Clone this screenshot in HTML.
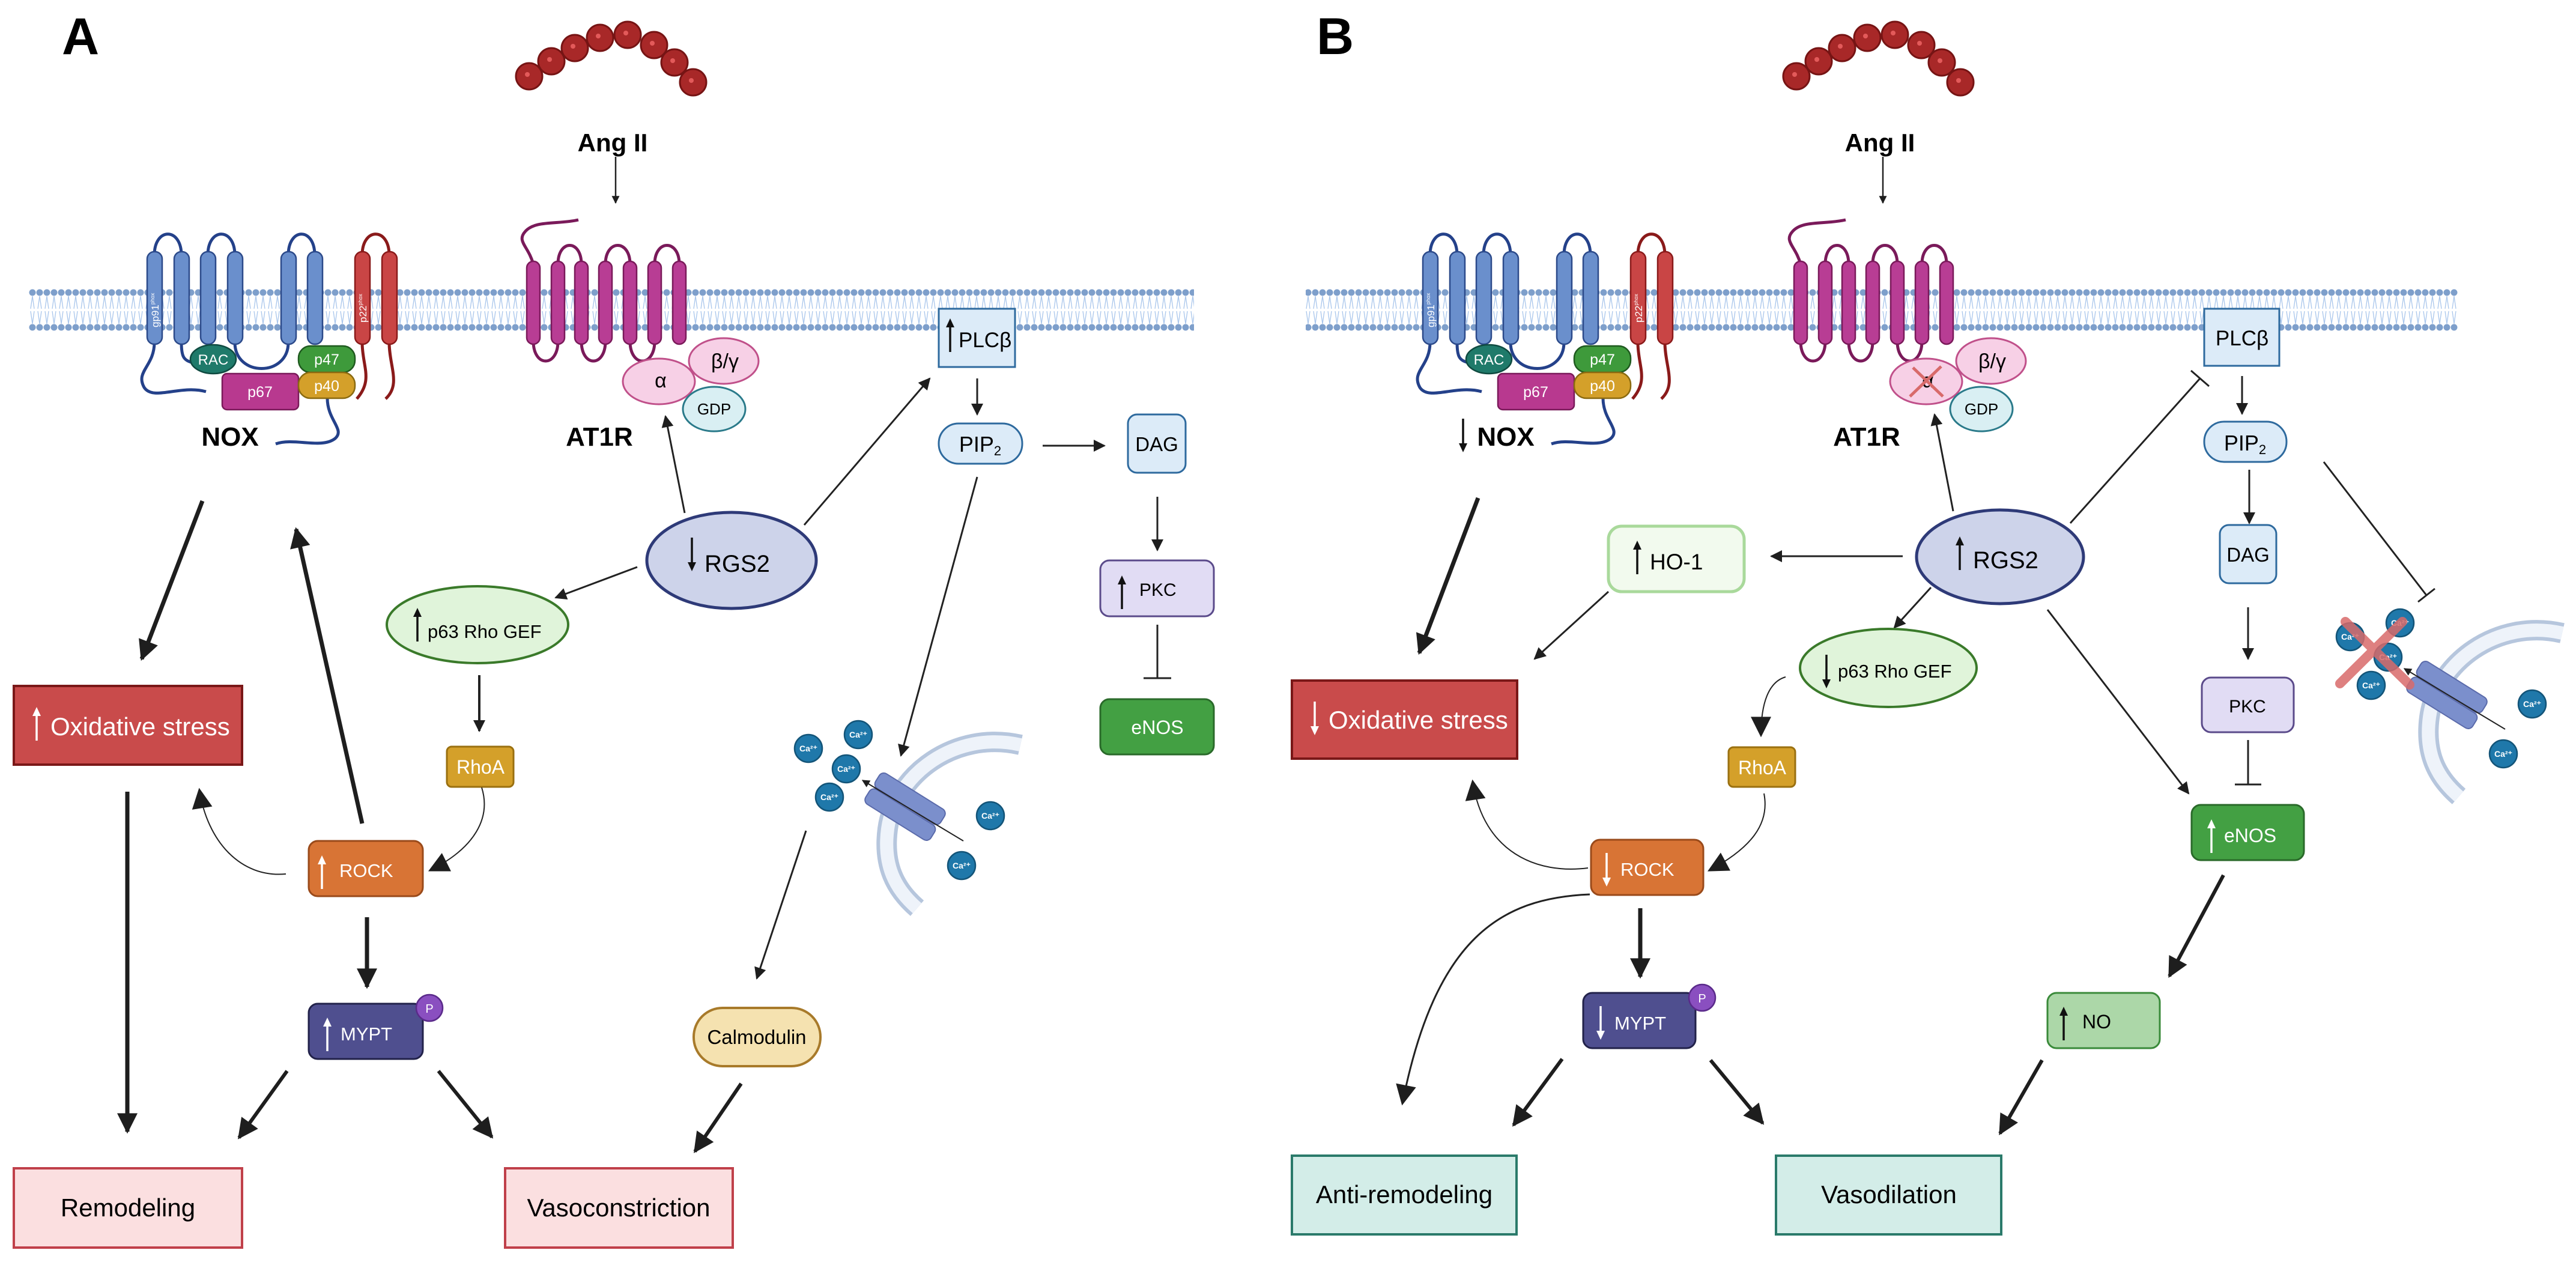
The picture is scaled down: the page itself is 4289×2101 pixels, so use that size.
<!DOCTYPE html>
<html><head><meta charset="utf-8"><style>
html,body{margin:0;padding:0;background:#fff}
svg{display:block}
text{font-family:"Liberation Sans",Arial,sans-serif}
</style></head><body>
<svg xmlns="http://www.w3.org/2000/svg" width="4289" height="2101" viewBox="0 0 4289 2101">
<defs>
<marker id="ah" viewBox="0 0 10 10" refX="9" refY="5" markerWidth="24" markerHeight="20" markerUnits="userSpaceOnUse" orient="auto"><path d="M0,0L10,5L0,10z" fill="#1e1e1e"/></marker>
<marker id="as" viewBox="0 0 10 10" refX="9" refY="5" markerWidth="16" markerHeight="13" markerUnits="userSpaceOnUse" orient="auto"><path d="M0,0L10,5L0,10z" fill="#1e1e1e"/></marker>
<marker id="ab" viewBox="0 0 10 10" refX="9" refY="5" markerWidth="40" markerHeight="34" markerUnits="userSpaceOnUse" orient="auto"><path d="M0,0L10,5L0,10z" fill="#1e1e1e"/></marker>
<pattern id="mem" x="0" y="480" width="12" height="72" patternUnits="userSpaceOnUse">
<path d="M6,13 L3,34 M6,13 L9,34 M3,38 L6,59 M9,38 L6,59" stroke="#a9c6ec" stroke-width="1.3" fill="none"/>
<circle cx="6" cy="7" r="5.5" fill="#7e9fcb"/><circle cx="6" cy="65" r="5.5" fill="#7e9fcb"/>
</pattern>
<g id="up"><path d="M0,56 V12" stroke="currentColor" stroke-width="3.5"/><path d="M-7,15 L0,0 L7,15z" fill="currentColor"/></g>
<g id="dn"><path d="M0,0 V44" stroke="currentColor" stroke-width="3.5"/><path d="M-7,41 L0,56 L7,41z" fill="currentColor"/></g>
<g id="bead"><circle r="22" fill="#a82828" stroke="#761414" stroke-width="3"/><circle cx="-3" cy="-3" r="4" fill="#e35a5a"/></g>
<g id="ca"><circle r="23" fill="#1f78aa" stroke="#135478" stroke-width="2.5"/><text y="5" text-anchor="middle" font-size="14" font-weight="bold" fill="#fff">Ca²⁺</text></g>

<!-- shared NOX -->
<g id="nox">
<path d="M257,425 C257,378 302,378 302,425 M346,425 C346,378 391,378 391,425 M480,425 C480,378 524,378 524,425" stroke="#24418a" stroke-width="5" fill="none"/>
<path d="M257,570 C257,610 225,618 240,645 C255,668 300,640 343,652 M302,570 C302,595 306,600 322,604 M391,570 C391,628 480,628 480,570 M545,663 C545,700 575,715 558,730 C535,748 490,728 459,739" stroke="#24418a" stroke-width="5" fill="none"/>
<g fill="#6a8fcc" stroke="#2c4a8a" stroke-width="2.5">
<rect x="245" y="419" width="25" height="154" rx="12"/><rect x="290" y="419" width="25" height="154" rx="12"/>
<rect x="334" y="419" width="25" height="154" rx="12"/><rect x="379" y="419" width="25" height="154" rx="12"/>
<rect x="468" y="419" width="25" height="154" rx="12"/><rect x="512" y="419" width="25" height="154" rx="12"/>
</g>
<path d="M603,425 C603,378 648,378 648,425 M603,570 C603,610 622,632 594,664 M648,570 C648,610 668,640 642,664" stroke="#8a1a1a" stroke-width="5" fill="none"/>
<g fill="#c94545" stroke="#8a1a1a" stroke-width="2.5"><rect x="591" y="419" width="25" height="154" rx="12"/><rect x="636" y="419" width="25" height="154" rx="12"/></g>
<text transform="translate(264,545) rotate(-90)" font-size="17" fill="#fff">gp91<tspan font-size="9" dy="-7">phox</tspan></text>
<text transform="translate(610,537) rotate(-90)" font-size="17" fill="#fff">p22<tspan font-size="9" dy="-7">phox</tspan></text>
<ellipse cx="355" cy="598" rx="38" ry="24" fill="#1f7a6a" stroke="#0f4a40" stroke-width="2.5"/>
<text x="355" y="607" text-anchor="middle" font-size="24" fill="#fff">RAC</text>
<rect x="370" y="622" width="127" height="60" rx="8" fill="#b8398f" stroke="#7a1a5a" stroke-width="2.5"/>
<text x="433" y="661" text-anchor="middle" font-size="25" fill="#fff">p67</text>
<rect x="497" y="576" width="94" height="44" rx="20" fill="#3e9a3b" stroke="#1f5a1f" stroke-width="2.5"/>
<text x="544" y="607" text-anchor="middle" font-size="25" fill="#fff">p47</text>
<rect x="497" y="620" width="94" height="43" rx="20" fill="#d4a02a" stroke="#8a6a10" stroke-width="2.5"/>
<text x="544" y="651" text-anchor="middle" font-size="25" fill="#fff">p40</text>
<text x="383" y="742" text-anchor="middle" font-size="44" font-weight="bold">NOX</text>
</g>

<!-- shared receptor -->
<g id="rec">
<use href="#bead" x="881" y="127"/><use href="#bead" x="918" y="102"/><use href="#bead" x="957" y="80"/><use href="#bead" x="999" y="63"/><use href="#bead" x="1045" y="58"/><use href="#bead" x="1089" y="75"/><use href="#bead" x="1123" y="104"/><use href="#bead" x="1154" y="137"/>
<text x="1020" y="252" text-anchor="middle" font-size="42" font-weight="bold">Ang II</text>
<path d="M1025,261 V338" stroke="#222" stroke-width="2.5" marker-end="url(#as)"/>
<path d="M888,440 C880,410 860,402 874,386 C890,366 930,374 963,366" stroke="#7a1a5a" stroke-width="5" fill="none"/>
<path d="M929,440 C929,398 968,398 968,440 M1008,440 C1008,398 1049,398 1049,440 M1090,440 C1090,398 1131,398 1131,440 M888,568 C888,612 929,612 929,568 M968,568 C968,612 1008,612 1008,568 M1049,568 C1049,612 1090,612 1090,568" stroke="#7a1a5a" stroke-width="5" fill="none"/>
<g fill="#b83d94" stroke="#7a1a5a" stroke-width="2.5">
<rect x="877" y="435" width="22" height="138" rx="11"/><rect x="918" y="435" width="22" height="138" rx="11"/><rect x="957" y="435" width="22" height="138" rx="11"/><rect x="997" y="435" width="22" height="138" rx="11"/><rect x="1038" y="435" width="22" height="138" rx="11"/><rect x="1079" y="435" width="22" height="138" rx="11"/><rect x="1120" y="435" width="22" height="138" rx="11"/>
</g>
<ellipse cx="1205" cy="601" rx="58" ry="38" fill="#f7d0e6" stroke="#c0508a" stroke-width="3"/>
<text x="1207" y="613" text-anchor="middle" font-size="34">β/γ</text>
<ellipse cx="1097" cy="635" rx="60" ry="38" fill="#f7d0e6" stroke="#c0508a" stroke-width="3"/>
<ellipse cx="1189" cy="681" rx="52" ry="37" fill="#d9eff3" stroke="#2a7a8a" stroke-width="3"/>
<text x="1189" y="690" text-anchor="middle" font-size="26">GDP</text>
<text x="998" y="742" text-anchor="middle" font-size="44" font-weight="bold">AT1R</text>
</g>

<!-- shared Ca channel -->
<g id="cag">
<path d="M1699,1240 C1590,1215 1490,1290 1478,1380 C1470,1440 1490,1480 1527,1512" stroke="#b6c6dd" stroke-width="34" fill="none"/>
<path d="M1699,1240 C1590,1215 1490,1290 1478,1380 C1470,1440 1490,1480 1527,1512" stroke="#eef3fa" stroke-width="22" fill="none"/>
<g transform="translate(1507,1343) rotate(32)">
<rect x="-64" y="-30" width="128" height="29" rx="9" fill="#7b8fcc" stroke="#5a6aaa" stroke-width="2"/>
<rect x="-64" y="1" width="128" height="29" rx="9" fill="#7b8fcc" stroke="#5a6aaa" stroke-width="2"/>
</g>
<path d="M1604,1400 L1436,1299" stroke="#222" stroke-width="2" marker-end="url(#as)"/>
<use href="#ca" x="1346" y="1246"/><use href="#ca" x="1429" y="1223"/><use href="#ca" x="1409" y="1280"/><use href="#ca" x="1381" y="1327"/><use href="#ca" x="1649" y="1358"/><use href="#ca" x="1601" y="1441"/>
</g>
</defs>

<!-- ================= PANEL A ================= -->
<text x="103" y="90" font-size="86" font-weight="bold">A</text>
<rect x="48" y="480" width="1940" height="72" fill="url(#mem)"/>
<use href="#nox"/>
<use href="#rec"/>
<text x="1100" y="645" text-anchor="middle" font-size="34">α</text>

<rect x="1563" y="514" width="127" height="97" fill="#dcebf8" stroke="#2e6a9e" stroke-width="3"/>
<use href="#up" x="1582" y="530" transform="translate(0,0)" style="color:#111"/>
<text x="1596" y="578" font-size="35">PLCβ</text>
<path d="M1627,630 V690" stroke="#222" stroke-width="3" marker-end="url(#ah)"/>
<rect x="1563" y="705" width="139" height="67" rx="33" fill="#dcebf8" stroke="#2e6a9e" stroke-width="3"/>
<text x="1632" y="752" text-anchor="middle" font-size="36">PIP<tspan font-size="22" dy="6">2</tspan></text>
<path d="M1736,742 H1839" stroke="#222" stroke-width="3" marker-end="url(#ah)"/>
<rect x="1878" y="690" width="96" height="97" rx="15" fill="#dcebf8" stroke="#2e6a9e" stroke-width="3"/>
<text x="1926" y="751" text-anchor="middle" font-size="33">DAG</text>
<path d="M1927,827 V916" stroke="#222" stroke-width="3" marker-end="url(#ah)"/>
<rect x="1832" y="933" width="189" height="93" rx="15" fill="#e1dcf4" stroke="#5a4a8a" stroke-width="3"/>
<use href="#up" x="1868" y="958" style="color:#111"/>
<text x="1897" y="992" font-size="30">PKC</text>
<path d="M1927,1040 V1129 M1904,1129 H1950" stroke="#222" stroke-width="3"/>
<rect x="1832" y="1164" width="189" height="92" rx="15" fill="#43a043" stroke="#2a6a2a" stroke-width="3"/>
<text x="1927" y="1222" text-anchor="middle" font-size="32" fill="#fff">eNOS</text>

<ellipse cx="1218" cy="933" rx="141" ry="80" fill="#cdd3ea" stroke="#2e3a78" stroke-width="5"/>
<use href="#dn" x="1152" y="895" style="color:#111"/>
<text x="1173" y="952" font-size="40">RGS2</text>
<path d="M1140,854 L1108,693" stroke="#222" stroke-width="3" marker-end="url(#ah)"/>
<path d="M1339,874 L1548,630" stroke="#222" stroke-width="3" marker-end="url(#ah)"/>
<path d="M1627,794 L1500,1258" stroke="#222" stroke-width="3" marker-end="url(#ah)"/>
<path d="M1061,944 L925,995" stroke="#222" stroke-width="3" marker-end="url(#ah)"/>

<ellipse cx="795" cy="1040" rx="151" ry="64" fill="#e0f4da" stroke="#3a7a2a" stroke-width="4"/>
<use href="#up" x="695" y="1012" transform="" style="color:#111"/>
<text x="712" y="1062" font-size="31">p63 Rho GEF</text>
<path d="M798,1124 V1217" stroke="#222" stroke-width="4" marker-end="url(#ah)"/>
<rect x="744" y="1243" width="111" height="67" rx="8" fill="#d4a02a" stroke="#9a7010" stroke-width="3"/>
<text x="800" y="1288" text-anchor="middle" font-size="32" fill="#fff">RhoA</text>
<path d="M802,1311 C818,1362 790,1412 716,1449" stroke="#222" stroke-width="2" fill="none" marker-end="url(#ab)"/>
<rect x="514" y="1400" width="190" height="92" rx="15" fill="#d87435" stroke="#9a4a1a" stroke-width="3"/>
<use href="#up" x="536" y="1424" style="color:#fff"/>
<text x="565" y="1460" font-size="31" fill="#fff">ROCK</text>
<path d="M603,1371 L493,881" stroke="#1e1e1e" stroke-width="7" marker-end="url(#ab)"/>
<path d="M337,834 L236,1097" stroke="#1e1e1e" stroke-width="7" marker-end="url(#ab)"/>
<rect x="23" y="1142" width="380" height="131" fill="#c94b4b" stroke="#7a1818" stroke-width="4"/>
<use href="#up" x="61" y="1177" style="color:#fff"/>
<text x="84" y="1224" font-size="42" fill="#fff">Oxidative stress</text>
<path d="M476,1455 C400,1462 345,1400 332,1315" stroke="#222" stroke-width="2" fill="none" marker-end="url(#ab)"/>
<path d="M212,1318 V1884" stroke="#1e1e1e" stroke-width="7" marker-end="url(#ab)"/>
<path d="M611,1527 V1643" stroke="#1e1e1e" stroke-width="7" marker-end="url(#ab)"/>
<rect x="514" y="1671" width="190" height="92" rx="15" fill="#4f4f8f" stroke="#22224a" stroke-width="3"/>
<use href="#up" x="545" y="1694" style="color:#fff"/>
<text x="567" y="1732" font-size="31" fill="#fff">MYPT</text>
<circle cx="715" cy="1678" r="22" fill="#8a4fc0" stroke="#5a2a8a" stroke-width="2.5"/>
<text x="715" y="1686" text-anchor="middle" font-size="20" fill="#fff">P</text>
<path d="M478,1783 L398,1894" stroke="#1e1e1e" stroke-width="6" marker-end="url(#ab)"/>
<path d="M730,1783 L819,1893" stroke="#1e1e1e" stroke-width="6" marker-end="url(#ab)"/>
<rect x="23" y="1945" width="380" height="132" fill="#fbdfe0" stroke="#c0404a" stroke-width="4"/>
<text x="213" y="2025" text-anchor="middle" font-size="42">Remodeling</text>
<rect x="841" y="1945" width="379" height="132" fill="#fbdfe0" stroke="#c0404a" stroke-width="4"/>
<text x="1030" y="2025" text-anchor="middle" font-size="42">Vasoconstriction</text>
<use href="#cag"/>
<path d="M1342,1383 L1260,1629" stroke="#222" stroke-width="3" marker-end="url(#ah)"/>
<rect x="1155" y="1678" width="211" height="97" rx="48" fill="#f5e2b0" stroke="#a87a2a" stroke-width="4"/>
<text x="1260" y="1738" text-anchor="middle" font-size="33">Calmodulin</text>
<path d="M1234,1804 L1157,1917" stroke="#1e1e1e" stroke-width="6" marker-end="url(#ab)"/>

<!-- ================= PANEL B ================= -->
<text x="2192" y="90" font-size="86" font-weight="bold">B</text>
<rect x="2174" y="480" width="1918" height="72" fill="url(#mem)"/>
<use href="#nox" x="2124"/>
<use href="#rec" x="2110"/>
<text x="3210" y="645" text-anchor="middle" font-size="34">α</text>
<path d="M3185,612 L3235,660 M3180,660 L3232,610" stroke="#d86a6a" stroke-width="5"/>
<use href="#dn" x="2436" y="697" style="color:#111"/>

<rect x="3670" y="514" width="125" height="95" fill="#dcebf8" stroke="#2e6a9e" stroke-width="3"/>
<text x="3733" y="575" text-anchor="middle" font-size="35">PLCβ</text>
<path d="M3733,626 V689" stroke="#222" stroke-width="3" marker-end="url(#ah)"/>
<rect x="3670" y="702" width="137" height="67" rx="33" fill="#dcebf8" stroke="#2e6a9e" stroke-width="3"/>
<text x="3738" y="750" text-anchor="middle" font-size="36">PIP<tspan font-size="22" dy="6">2</tspan></text>
<path d="M3745,782 V871" stroke="#222" stroke-width="3" marker-end="url(#ah)"/>
<rect x="3696" y="874" width="94" height="97" rx="15" fill="#dcebf8" stroke="#2e6a9e" stroke-width="3"/>
<text x="3743" y="935" text-anchor="middle" font-size="33">DAG</text>
<path d="M3743,1011 V1097" stroke="#222" stroke-width="3" marker-end="url(#ah)"/>
<rect x="3666" y="1128" width="153" height="91" rx="15" fill="#e1dcf4" stroke="#5a4a8a" stroke-width="3"/>
<text x="3742" y="1186" text-anchor="middle" font-size="30">PKC</text>
<path d="M3743,1232 V1306 M3721,1306 H3765" stroke="#222" stroke-width="3"/>
<rect x="3649" y="1340" width="187" height="92" rx="15" fill="#43a043" stroke="#2a6a2a" stroke-width="3"/>
<use href="#up" x="3682" y="1364" style="color:#fff"/>
<text x="3703" y="1402" font-size="32" fill="#fff">eNOS</text>

<ellipse cx="3330" cy="927" rx="139" ry="78" fill="#cdd3ea" stroke="#2e3a78" stroke-width="5"/>
<use href="#up" x="3263" y="893" style="color:#111"/>
<text x="3285" y="946" font-size="40">RGS2</text>
<path d="M3252,851 L3221,690" stroke="#222" stroke-width="3" marker-end="url(#ah)"/>
<path d="M3447,871 L3663,630 M3648,617 L3678,643" stroke="#222" stroke-width="3"/>
<path d="M3869,769 L4040,991 M4026,1002 L4054,980" stroke="#222" stroke-width="3"/>
<path d="M3168,926 L2949,926" stroke="#222" stroke-width="3" marker-end="url(#ah)"/>
<path d="M3409,1015 L3644,1321" stroke="#222" stroke-width="3" marker-end="url(#ah)"/>
<path d="M3215,978 L3154,1045" stroke="#222" stroke-width="3" marker-end="url(#ah)"/>

<rect x="2678" y="876" width="226" height="109" rx="22" fill="#f2faee" stroke="#a9d99b" stroke-width="5"/>
<use href="#up" x="2726" y="900" style="color:#111"/>
<text x="2747" y="948" font-size="37">HO-1</text>
<path d="M2678,985 L2555,1097" stroke="#222" stroke-width="3" marker-end="url(#ah)"/>
<path d="M2461,829 L2363,1087" stroke="#1e1e1e" stroke-width="7" marker-end="url(#ab)"/>
<rect x="2151" y="1133" width="375" height="130" fill="#c94b4b" stroke="#7a1818" stroke-width="4"/>
<use href="#dn" x="2189" y="1168" style="color:#fff"/>
<text x="2212" y="1213" font-size="42" fill="#fff">Oxidative stress</text>

<ellipse cx="3144" cy="1112" rx="147" ry="65" fill="#e0f4da" stroke="#3a7a2a" stroke-width="4"/>
<use href="#dn" x="3041" y="1090" style="color:#111"/>
<text x="3060" y="1128" font-size="31">p63 Rho GEF</text>
<path d="M2973,1127 C2945,1135 2932,1170 2932,1224" stroke="#222" stroke-width="2" fill="none" marker-end="url(#ab)"/>
<rect x="2878" y="1244" width="111" height="66" rx="8" fill="#d4a02a" stroke="#9a7010" stroke-width="3"/>
<text x="2934" y="1289" text-anchor="middle" font-size="32" fill="#fff">RhoA</text>
<path d="M2937,1321 C2947,1372 2915,1412 2846,1449" stroke="#222" stroke-width="2" fill="none" marker-end="url(#ab)"/>
<rect x="2649" y="1398" width="187" height="92" rx="15" fill="#d87435" stroke="#9a4a1a" stroke-width="3"/>
<use href="#dn" x="2675" y="1420" style="color:#fff"/>
<text x="2698" y="1458" font-size="31" fill="#fff">ROCK</text>
<path d="M2644,1445 C2560,1456 2470,1420 2452,1301" stroke="#222" stroke-width="2" fill="none" marker-end="url(#ab)"/>
<path d="M2647,1489 C2500,1495 2390,1560 2335,1837" stroke="#222" stroke-width="3" fill="none" marker-end="url(#ab)"/>
<path d="M2731,1512 V1626" stroke="#1e1e1e" stroke-width="7" marker-end="url(#ab)"/>
<rect x="2636" y="1653" width="187" height="92" rx="15" fill="#4f4f8f" stroke="#22224a" stroke-width="3"/>
<use href="#dn" x="2665" y="1675" style="color:#fff"/>
<text x="2688" y="1714" font-size="31" fill="#fff">MYPT</text>
<circle cx="2834" cy="1661" r="22" fill="#8a4fc0" stroke="#5a2a8a" stroke-width="2.5"/>
<text x="2834" y="1669" text-anchor="middle" font-size="20" fill="#fff">P</text>
<path d="M2601,1763 L2520,1873" stroke="#1e1e1e" stroke-width="6" marker-end="url(#ab)"/>
<path d="M2848,1765 L2935,1870" stroke="#1e1e1e" stroke-width="6" marker-end="url(#ab)"/>
<rect x="2151" y="1924" width="374" height="131" fill="#d3ede8" stroke="#2a7a6a" stroke-width="4"/>
<text x="2338" y="2003" text-anchor="middle" font-size="42">Anti-remodeling</text>
<rect x="2957" y="1924" width="375" height="131" fill="#d3ede8" stroke="#2a7a6a" stroke-width="4"/>
<text x="3145" y="2003" text-anchor="middle" font-size="42">Vasodilation</text>
<path d="M3702,1457 L3612,1625" stroke="#1e1e1e" stroke-width="6" marker-end="url(#ab)"/>
<rect x="3409" y="1653" width="187" height="92" rx="15" fill="#acd7a8" stroke="#3a8a3a" stroke-width="3"/>
<use href="#up" x="3436" y="1676" style="color:#111"/>
<text x="3467" y="1712" font-size="32">NO</text>
<path d="M3400,1765 L3330,1887" stroke="#1e1e1e" stroke-width="6" marker-end="url(#ab)"/>
<use href="#cag" x="2567" y="-186"/>
<path d="M3896,1138 L4000,1035 M3905,1035 L4012,1140" stroke="#d86a6a" stroke-opacity="0.85" stroke-width="16" stroke-linecap="round"/>
</svg>
</body></html>
